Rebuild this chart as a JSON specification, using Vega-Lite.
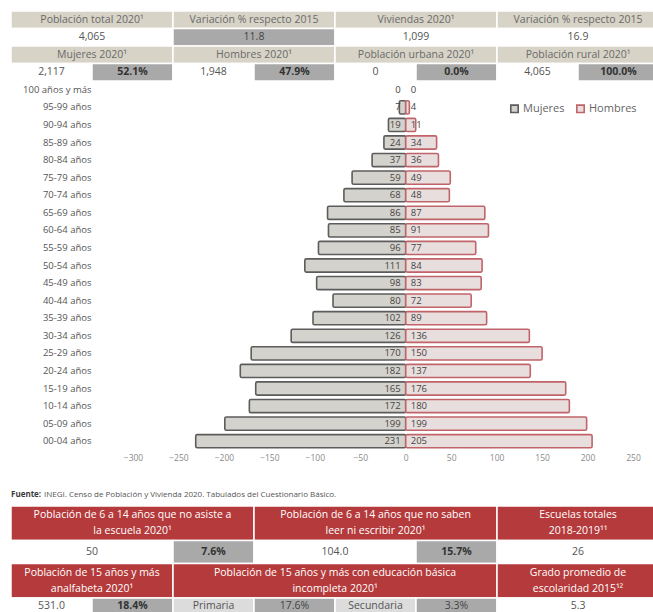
{
  "$schema": "https://vega.github.io/schema/vega-lite/v6.json",
  "padding": {"left": 10, "top": 10, "right": 0, "bottom": 0},
  "background": "white",
  "bounds": "flush",
  "spacing": 0,
  "config": {"view": {"stroke": null}, "font": "Open Sans", "text": {"font": "Open Sans"}},
  "resolve": {"scale": {"x": "independent", "y": "independent", "fill": "independent", "stroke": "independent", "color": "independent"}},
  "datasets": {
    "piramide": [
      {"edad": "100 años y más", "sexo": "Mujeres", "poblacion": 0},
      {"edad": "100 años y más", "sexo": "Hombres", "poblacion": 0},
      {"edad": "95-99 años", "sexo": "Mujeres", "poblacion": 7},
      {"edad": "95-99 años", "sexo": "Hombres", "poblacion": 4},
      {"edad": "90-94 años", "sexo": "Mujeres", "poblacion": 19},
      {"edad": "90-94 años", "sexo": "Hombres", "poblacion": 11},
      {"edad": "85-89 años", "sexo": "Mujeres", "poblacion": 24},
      {"edad": "85-89 años", "sexo": "Hombres", "poblacion": 34},
      {"edad": "80-84 años", "sexo": "Mujeres", "poblacion": 37},
      {"edad": "80-84 años", "sexo": "Hombres", "poblacion": 36},
      {"edad": "75-79 años", "sexo": "Mujeres", "poblacion": 59},
      {"edad": "75-79 años", "sexo": "Hombres", "poblacion": 49},
      {"edad": "70-74 años", "sexo": "Mujeres", "poblacion": 68},
      {"edad": "70-74 años", "sexo": "Hombres", "poblacion": 48},
      {"edad": "65-69 años", "sexo": "Mujeres", "poblacion": 86},
      {"edad": "65-69 años", "sexo": "Hombres", "poblacion": 87},
      {"edad": "60-64 años", "sexo": "Mujeres", "poblacion": 85},
      {"edad": "60-64 años", "sexo": "Hombres", "poblacion": 91},
      {"edad": "55-59 años", "sexo": "Mujeres", "poblacion": 96},
      {"edad": "55-59 años", "sexo": "Hombres", "poblacion": 77},
      {"edad": "50-54 años", "sexo": "Mujeres", "poblacion": 111},
      {"edad": "50-54 años", "sexo": "Hombres", "poblacion": 84},
      {"edad": "45-49 años", "sexo": "Mujeres", "poblacion": 98},
      {"edad": "45-49 años", "sexo": "Hombres", "poblacion": 83},
      {"edad": "40-44 años", "sexo": "Mujeres", "poblacion": 80},
      {"edad": "40-44 años", "sexo": "Hombres", "poblacion": 72},
      {"edad": "35-39 años", "sexo": "Mujeres", "poblacion": 102},
      {"edad": "35-39 años", "sexo": "Hombres", "poblacion": 89},
      {"edad": "30-34 años", "sexo": "Mujeres", "poblacion": 126},
      {"edad": "30-34 años", "sexo": "Hombres", "poblacion": 136},
      {"edad": "25-29 años", "sexo": "Mujeres", "poblacion": 170},
      {"edad": "25-29 años", "sexo": "Hombres", "poblacion": 150},
      {"edad": "20-24 años", "sexo": "Mujeres", "poblacion": 182},
      {"edad": "20-24 años", "sexo": "Hombres", "poblacion": 137},
      {"edad": "15-19 años", "sexo": "Mujeres", "poblacion": 165},
      {"edad": "15-19 años", "sexo": "Hombres", "poblacion": 176},
      {"edad": "10-14 años", "sexo": "Mujeres", "poblacion": 172},
      {"edad": "10-14 años", "sexo": "Hombres", "poblacion": 180},
      {"edad": "05-09 años", "sexo": "Mujeres", "poblacion": 199},
      {"edad": "05-09 años", "sexo": "Hombres", "poblacion": 199},
      {"edad": "00-04 años", "sexo": "Mujeres", "poblacion": 231},
      {"edad": "00-04 años", "sexo": "Hombres", "poblacion": 205}
    ],
    "tablas": [
      {"tabla": "sup", "c0": 0, "c1": 2, "r0": 0, "r1": 1, "texto": "Población total 2020¹", "clase": "titulo"},
      {"tabla": "sup", "c0": 2, "c1": 4, "r0": 0, "r1": 1, "texto": "Variación % respecto 2015", "clase": "titulo"},
      {"tabla": "sup", "c0": 4, "c1": 6, "r0": 0, "r1": 1, "texto": "Viviendas  2020¹", "clase": "titulo"},
      {"tabla": "sup", "c0": 6, "c1": 8, "r0": 0, "r1": 1, "texto": "Variación % respecto 2015", "clase": "titulo"},
      {"tabla": "sup", "c0": 0, "c1": 2, "r0": 1, "r1": 2, "texto": "4,065", "clase": "dato"},
      {"tabla": "sup", "c0": 2, "c1": 4, "r0": 1, "r1": 2, "texto": "11.8", "clase": "tasa"},
      {"tabla": "sup", "c0": 4, "c1": 6, "r0": 1, "r1": 2, "texto": "1,099", "clase": "dato"},
      {"tabla": "sup", "c0": 6, "c1": 8, "r0": 1, "r1": 2, "texto": "16.9", "clase": "dato"},
      {"tabla": "sup", "c0": 0, "c1": 2, "r0": 2, "r1": 3, "texto": "Mujeres 2020¹", "clase": "titulo"},
      {"tabla": "sup", "c0": 2, "c1": 4, "r0": 2, "r1": 3, "texto": "Hombres 2020¹", "clase": "titulo"},
      {"tabla": "sup", "c0": 4, "c1": 6, "r0": 2, "r1": 3, "texto": "Población urbana 2020¹", "clase": "titulo"},
      {"tabla": "sup", "c0": 6, "c1": 8, "r0": 2, "r1": 3, "texto": "Población rural 2020¹", "clase": "titulo"},
      {"tabla": "sup", "c0": 0, "c1": 1, "r0": 3, "r1": 4, "texto": "2,117", "clase": "dato"},
      {"tabla": "sup", "c0": 1, "c1": 2, "r0": 3, "r1": 4, "texto": "52.1%", "clase": "porcentaje"},
      {"tabla": "sup", "c0": 2, "c1": 3, "r0": 3, "r1": 4, "texto": "1,948", "clase": "dato"},
      {"tabla": "sup", "c0": 3, "c1": 4, "r0": 3, "r1": 4, "texto": "47.9%", "clase": "porcentaje"},
      {"tabla": "sup", "c0": 4, "c1": 5, "r0": 3, "r1": 4, "texto": "0", "clase": "dato"},
      {"tabla": "sup", "c0": 5, "c1": 6, "r0": 3, "r1": 4, "texto": "0.0%", "clase": "porcentaje"},
      {"tabla": "sup", "c0": 6, "c1": 7, "r0": 3, "r1": 4, "texto": "4,065", "clase": "dato"},
      {"tabla": "sup", "c0": 7, "c1": 8, "r0": 3, "r1": 4, "texto": "100.0%", "clase": "porcentaje"},
      {"tabla": "inf", "c0": 0, "c1": 3, "r0": 0, "r1": 3, "texto": "Población de 6 a 14 años que no asiste a\nla escuela 2020¹", "clase": "rojo"},
      {"tabla": "inf", "c0": 3, "c1": 6, "r0": 0, "r1": 3, "texto": "Población de 6 a 14 años que no saben\nleer ni escribir 2020¹", "clase": "rojo"},
      {"tabla": "inf", "c0": 6, "c1": 8, "r0": 0, "r1": 3, "texto": "Escuelas totales\n2018-2019¹¹", "clase": "rojo"},
      {"tabla": "inf", "c0": 0, "c1": 2, "r0": 3, "r1": 5, "texto": "50", "clase": "dato"},
      {"tabla": "inf", "c0": 2, "c1": 3, "r0": 3, "r1": 5, "texto": "7.6%", "clase": "porcentaje"},
      {"tabla": "inf", "c0": 3, "c1": 5, "r0": 3, "r1": 5, "texto": "104.0", "clase": "dato"},
      {"tabla": "inf", "c0": 5, "c1": 6, "r0": 3, "r1": 5, "texto": "15.7%", "clase": "porcentaje"},
      {"tabla": "inf", "c0": 6, "c1": 8, "r0": 3, "r1": 5, "texto": "26", "clase": "dato"},
      {"tabla": "inf", "c0": 0, "c1": 2, "r0": 5, "r1": 8, "texto": "Población de 15 años y más\nanalfabeta 2020¹", "clase": "rojo"},
      {"tabla": "inf", "c0": 2, "c1": 6, "r0": 5, "r1": 8, "texto": "Población de 15 años y más con  educación básica\nincompleta 2020¹", "clase": "rojo"},
      {"tabla": "inf", "c0": 6, "c1": 8, "r0": 5, "r1": 8, "texto": "Grado promedio de\nescolaridad 2015¹²", "clase": "rojo"},
      {"tabla": "inf", "c0": 0, "c1": 1, "r0": 8, "r1": 9.4, "texto": "531.0", "clase": "dato"},
      {"tabla": "inf", "c0": 1, "c1": 2, "r0": 8, "r1": 9.4, "texto": "18.4%", "clase": "porcentaje"},
      {"tabla": "inf", "c0": 2, "c1": 3, "r0": 8, "r1": 9.4, "texto": "Primaria", "clase": "nivel"},
      {"tabla": "inf", "c0": 3, "c1": 4, "r0": 8, "r1": 9.4, "texto": "17.6%", "clase": "pctnivel"},
      {"tabla": "inf", "c0": 4, "c1": 5, "r0": 8, "r1": 9.4, "texto": "Secundaria", "clase": "nivel"},
      {"tabla": "inf", "c0": 5, "c1": 6, "r0": 8, "r1": 9.4, "texto": "3.3%", "clase": "pctnivel"},
      {"tabla": "inf", "c0": 6, "c1": 8, "r0": 8, "r1": 9.4, "texto": "5.3", "clase": "dato"}
    ]
  },
  "vconcat": [
    {
      "width": 648,
      "height": 70,
      "data": {"name": "tablas"},
      "transform": [
        {"filter": "datum.tabla == 'sup'"},
        {"calculate": "(datum.c0 + datum.c1) / 2", "as": "cx"},
        {"calculate": "(datum.r0 + datum.r1) / 2", "as": "cy"}
      ],
      "encoding": {
        "x": {"field": "c0", "type": "quantitative", "scale": {"domain": [0, 8], "nice": false, "zero": false}, "axis": null},
        "y": {"field": "r0", "type": "quantitative", "scale": {"domain": [0, 4], "nice": false, "zero": false, "reverse": true}, "axis": null}
      },
      "layer": [
        {
          "mark": {"type": "rect", "stroke": "#ffffff", "strokeWidth": 1.5},
          "encoding": {
            "x2": {"field": "c1"},
            "y2": {"field": "r1"},
            "fill": {"field": "clase", "type": "nominal", "legend": null,
              "scale": {"domain": ["titulo", "dato", "tasa", "porcentaje", "pctnivel", "rojo", "nivel"],
                        "range": ["#d7d3c6", "#ffffff", "#a9a9a9", "#a9a9a9", "#a9a9a9", "#b43a3b", "#dcdcdc"]}}
          }
        },
        {
          "transform": [{"filter": "datum.clase != 'porcentaje'"}],
          "mark": {"type": "text", "fontSize": 10.5, "baseline": "middle", "align": "center"},
          "encoding": {
            "x": {"field": "cx", "type": "quantitative"},
            "y": {"field": "cy", "type": "quantitative"},
            "text": {"field": "texto"},
            "color": {"field": "clase", "type": "nominal", "legend": null,
              "scale": {"domain": ["titulo", "dato", "tasa", "porcentaje", "pctnivel", "rojo", "nivel"],
                        "range": ["#6a6a6a", "#555555", "#444444", "#333333", "#444444", "#ffffff", "#555555"]}}
          }
        },
        {
          "transform": [{"filter": "datum.clase == 'porcentaje'"}],
          "mark": {"type": "text", "fontSize": 10.5, "fontWeight": "bold", "baseline": "middle", "align": "center", "color": "#333333"},
          "encoding": {
            "x": {"field": "cx", "type": "quantitative"},
            "y": {"field": "cy", "type": "quantitative"},
            "text": {"field": "texto"}
          }
        }
      ]
    },
    {
      "width": 648,
      "height": 369,
      "data": {"name": "piramide"},
      "transform": [
        {"calculate": "datum.sexo == 'Mujeres' ? -datum.poblacion : datum.poblacion", "as": "posicion"}
      ],
      "encoding": {
        "y": {"field": "edad", "type": "nominal",
          "scale": {"paddingInner": 0.25, "paddingOuter": 0.125,
                    "domain": ["100 años y más", "95-99 años", "90-94 años", "85-89 años", "80-84 años", "75-79 años", "70-74 años", "65-69 años", "60-64 años", "55-59 años", "50-54 años", "45-49 años", "40-44 años", "35-39 años", "30-34 años", "25-29 años", "20-24 años", "15-19 años", "10-14 años", "05-09 años", "00-04 años"]},
          "axis": {"title": null, "orient": "left", "offset": -82, "domain": false, "ticks": false, "labelPadding": 2,
                   "labelFontSize": 9.5, "labelColor": "#555555", "labelFont": "Open Sans"}},
        "x": {"field": "posicion", "type": "quantitative",
          "scale": {"domain": [-434.2, 278.6], "nice": false, "zero": false},
          "axis": {"title": null, "values": [-300, -250, -200, -150, -100, -50, 0, 50, 100, 150, 200, 250],
                   "domain": false, "ticks": false, "grid": false, "labelFontSize": 8.5, "labelColor": "#8a8a8a",
                   "labelPadding": 3, "labelFont": "Open Sans"}}
      },
      "layer": [
        {
          "transform": [{"filter": "datum.poblacion > 0"}],
          "mark": {"type": "bar", "strokeWidth": 1.6, "cornerRadius": 1.5},
          "encoding": {
            "x2": {"datum": 0},
            "fill": {"field": "sexo", "type": "nominal",
              "scale": {"domain": ["Mujeres", "Hombres"], "range": ["#d4d2cc", "#e8dedd"]},
              "legend": {"title": null, "orient": "none", "legendX": 498, "legendY": 22, "direction": "horizontal",
                         "symbolType": "square", "symbolSize": 55, "symbolStrokeWidth": 1.6, "labelFontSize": 11,
                         "labelColor": "#666666", "columnPadding": 8, "labelOffset": 3, "labelFont": "Open Sans"}},
            "stroke": {"field": "sexo", "type": "nominal",
              "scale": {"domain": ["Mujeres", "Hombres"], "range": ["#5c5c5c", "#c0646a"]},
              "legend": {"title": null, "orient": "none", "legendX": 498, "legendY": 22, "direction": "horizontal",
                         "symbolType": "square", "symbolSize": 55, "symbolStrokeWidth": 1.6, "labelFontSize": 11,
                         "labelColor": "#666666", "columnPadding": 8, "labelOffset": 3, "labelFont": "Open Sans"}}
          }
        },
        {
          "transform": [{"filter": "datum.sexo == 'Mujeres'"}],
          "mark": {"type": "text", "align": "right", "baseline": "middle", "dx": -5, "fontSize": 9.5, "color": "#444444"},
          "encoding": {"x": {"datum": 0}, "text": {"field": "poblacion"}}
        },
        {
          "transform": [{"filter": "datum.sexo == 'Hombres'"}],
          "mark": {"type": "text", "align": "left", "baseline": "middle", "dx": 5, "fontSize": 9.5, "color": "#444444"},
          "encoding": {"x": {"datum": 0}, "text": {"field": "poblacion"}}
        }
      ]
    },
    {
      "width": 648,
      "height": 171,
      "data": {"name": "tablas"},
      "transform": [
        {"filter": "datum.tabla == 'inf'"},
        {"calculate": "(datum.c0 + datum.c1) / 2", "as": "cx"},
        {"calculate": "(datum.r0 + datum.r1) / 2", "as": "cy"}
      ],
      "encoding": {
        "x": {"field": "c0", "type": "quantitative", "scale": {"domain": [0, 8], "nice": false, "zero": false}, "axis": null},
        "y": {"field": "r0", "type": "quantitative", "scale": {"domain": [-4.87, 10], "nice": false, "zero": false, "reverse": true}, "axis": null}
      },
      "layer": [
        {
          "mark": {"type": "rect", "stroke": "#ffffff", "strokeWidth": 1.5},
          "encoding": {
            "x2": {"field": "c1"},
            "y2": {"field": "r1"},
            "fill": {"field": "clase", "type": "nominal", "legend": null,
              "scale": {"domain": ["titulo", "dato", "tasa", "porcentaje", "pctnivel", "rojo", "nivel"],
                        "range": ["#d7d3c6", "#ffffff", "#a9a9a9", "#a9a9a9", "#a9a9a9", "#b43a3b", "#dcdcdc"]}}
          }
        },
        {
          "transform": [{"filter": "datum.clase != 'porcentaje' && datum.clase != 'rojo'"}],
          "mark": {"type": "text", "fontSize": 10.5, "baseline": "middle", "align": "center"},
          "encoding": {
            "x": {"field": "cx", "type": "quantitative"},
            "y": {"field": "cy", "type": "quantitative"},
            "text": {"field": "texto"},
            "color": {"field": "clase", "type": "nominal", "legend": null,
              "scale": {"domain": ["titulo", "dato", "tasa", "porcentaje", "pctnivel", "rojo", "nivel"],
                        "range": ["#6a6a6a", "#555555", "#444444", "#333333", "#444444", "#ffffff", "#555555"]}}
          }
        },
        {
          "transform": [{"filter": "datum.clase == 'rojo'"}],
          "mark": {"type": "text", "fontSize": 10.5, "baseline": "middle", "align": "center", "lineBreak": "\n", "lineHeight": 16, "dy": -8, "color": "#ffffff"},
          "encoding": {
            "x": {"field": "cx", "type": "quantitative"},
            "y": {"field": "cy", "type": "quantitative"},
            "text": {"field": "texto"}
          }
        },
        {
          "transform": [{"filter": "datum.clase == 'porcentaje'"}],
          "mark": {"type": "text", "fontSize": 10.5, "fontWeight": "bold", "baseline": "middle", "align": "center", "color": "#333333"},
          "encoding": {
            "x": {"field": "cx", "type": "quantitative"},
            "y": {"field": "cy", "type": "quantitative"},
            "text": {"field": "texto"}
          }
        },
        {
          "data": {"values": [{"tabla": "inf", "c0": 0, "c1": 0, "r0": -1, "r1": -1, "etiqueta": "Fuente:", "resto": "INEGI. Censo de Población y Vivienda 2020. Tabulados del Cuestionario Básico."}]},
          "mark": {"type": "text", "fontSize": 8, "fontWeight": "bold", "align": "left", "baseline": "middle", "color": "#3a3a3a"},
          "encoding": {"x": {"datum": 0}, "y": {"datum": -1}, "text": {"field": "etiqueta"}}
        },
        {
          "data": {"values": [{"tabla": "inf", "c0": 0, "c1": 0, "r0": -1, "r1": -1, "etiqueta": "Fuente:", "resto": "INEGI. Censo de Población y Vivienda 2020. Tabulados del Cuestionario Básico."}]},
          "mark": {"type": "text", "fontSize": 8, "align": "left", "baseline": "middle", "color": "#555555", "dx": 33},
          "encoding": {"x": {"datum": 0}, "y": {"datum": -1}, "text": {"field": "resto"}}
        }
      ]
    }
  ]
}
